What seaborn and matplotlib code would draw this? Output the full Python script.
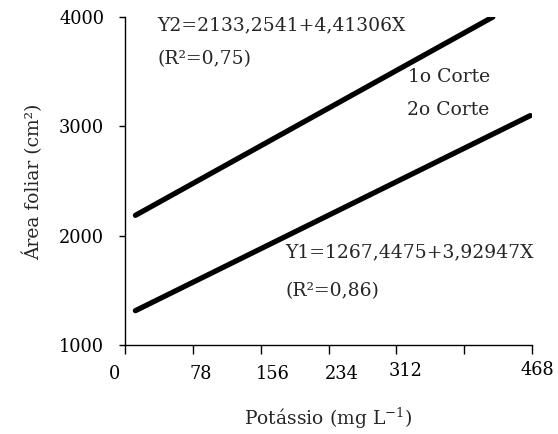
import matplotlib
matplotlib.use("Agg")
import matplotlib.pyplot as plt
import matplotlib.transforms as mtransforms
import seaborn as sns
import pandas as pd

# endpoints of the two fitted lines
x_corte1 = [12, 466]
y_corte1 = [1314, 3098]
x_corte2 = [12, 423]
y_corte2 = [2186, 4000]

x_ticks = [0, 78, 156, 234, 312, 390, 468]
x_tick_labels = ["0", "78", "156", "234", "312", "", "468"]
y_ticks = [1000, 2000, 3000, 4000]

eq1 = "Y1=1267,4475+3,92947X"
r2_1 = "(R²=0,86)"
eq2 = "Y2=2133,2541+4,41306X"
r2_2 = "(R²=0,75)"

df = pd.DataFrame({
    "x": x_corte1 + x_corte2,
    "y": y_corte1 + y_corte2,
    "serie": ["1o Corte"] * len(x_corte1) + ["2o Corte"] * len(x_corte2),
})

sns.set_style("ticks")
plt.rcParams["font.family"] = ["DejaVu Serif"]
plt.rcParams["mathtext.fontset"] = "dejavuserif"

fig = plt.figure(figsize=(5.58, 4.34), dpi=100)
ax = fig.add_axes([125 / 558, 1 - 345 / 434, 407 / 558, 328 / 434])

sns.lineplot(data=df, x="x", y="y", hue="serie", palette=["black", "black"],
             linewidth=3.8, legend=False, ax=ax, solid_capstyle="round")

ax.set_xlim(0, 468)
ax.set_ylim(1000, 4000)
ax.set_xticks(x_ticks)
ax.set_xticklabels(x_tick_labels)
ax.set_yticks(y_ticks)
ax.tick_params(axis="both", labelsize=12.8, colors="black", width=1, direction="out")
ax.tick_params(axis="x", length=6.5, pad=8)
ax.tick_params(axis="y", length=4, pad=11)
for side in ["top", "right"]:
    ax.spines[side].set_visible(False)
for side in ["left", "bottom"]:
    ax.spines[side].set_color("black")
    ax.spines[side].set_linewidth(1)

# the x labels in the original sit a little off their ticks
label_shift = [(-11, 0), (8, 0), (12, 0), (13, 0), (9, 3), (0, 0), (5, 4)]
for lab, (dx, dy) in zip(ax.get_xticklabels(), label_shift):
    lab.set_transform(lab.get_transform() +
                      mtransforms.ScaledTranslation(dx / 100, dy / 100, fig.dpi_scale_trans))

ax.set_xlabel(r"Potássio (mg L$^{\mathrm{-1}}$)", fontsize=13.5)
ax.set_ylabel("Área foliar (cm²)", fontsize=13.5)
ax.xaxis.set_label_coords(0.5, -0.185)
ax.yaxis.set_label_coords(-0.20, 0.497)

fs = 13.5
ax.text(36.8, 3881, eq2, fontsize=fs, va="baseline", ha="left")
ax.text(36.8, 3570, r2_2, fontsize=fs, va="baseline", ha="left")
ax.text(325, 3406, "1o Corte", fontsize=fs, va="baseline", ha="left")
ax.text(324, 3104, "2o Corte", fontsize=fs, va="baseline", ha="left")
ax.text(184, 1805, eq1, fontsize=fs, va="baseline", ha="left")
ax.text(184, 1448, r2_1, fontsize=fs, va="baseline", ha="left")

fig.savefig("out.png", dpi=100)
